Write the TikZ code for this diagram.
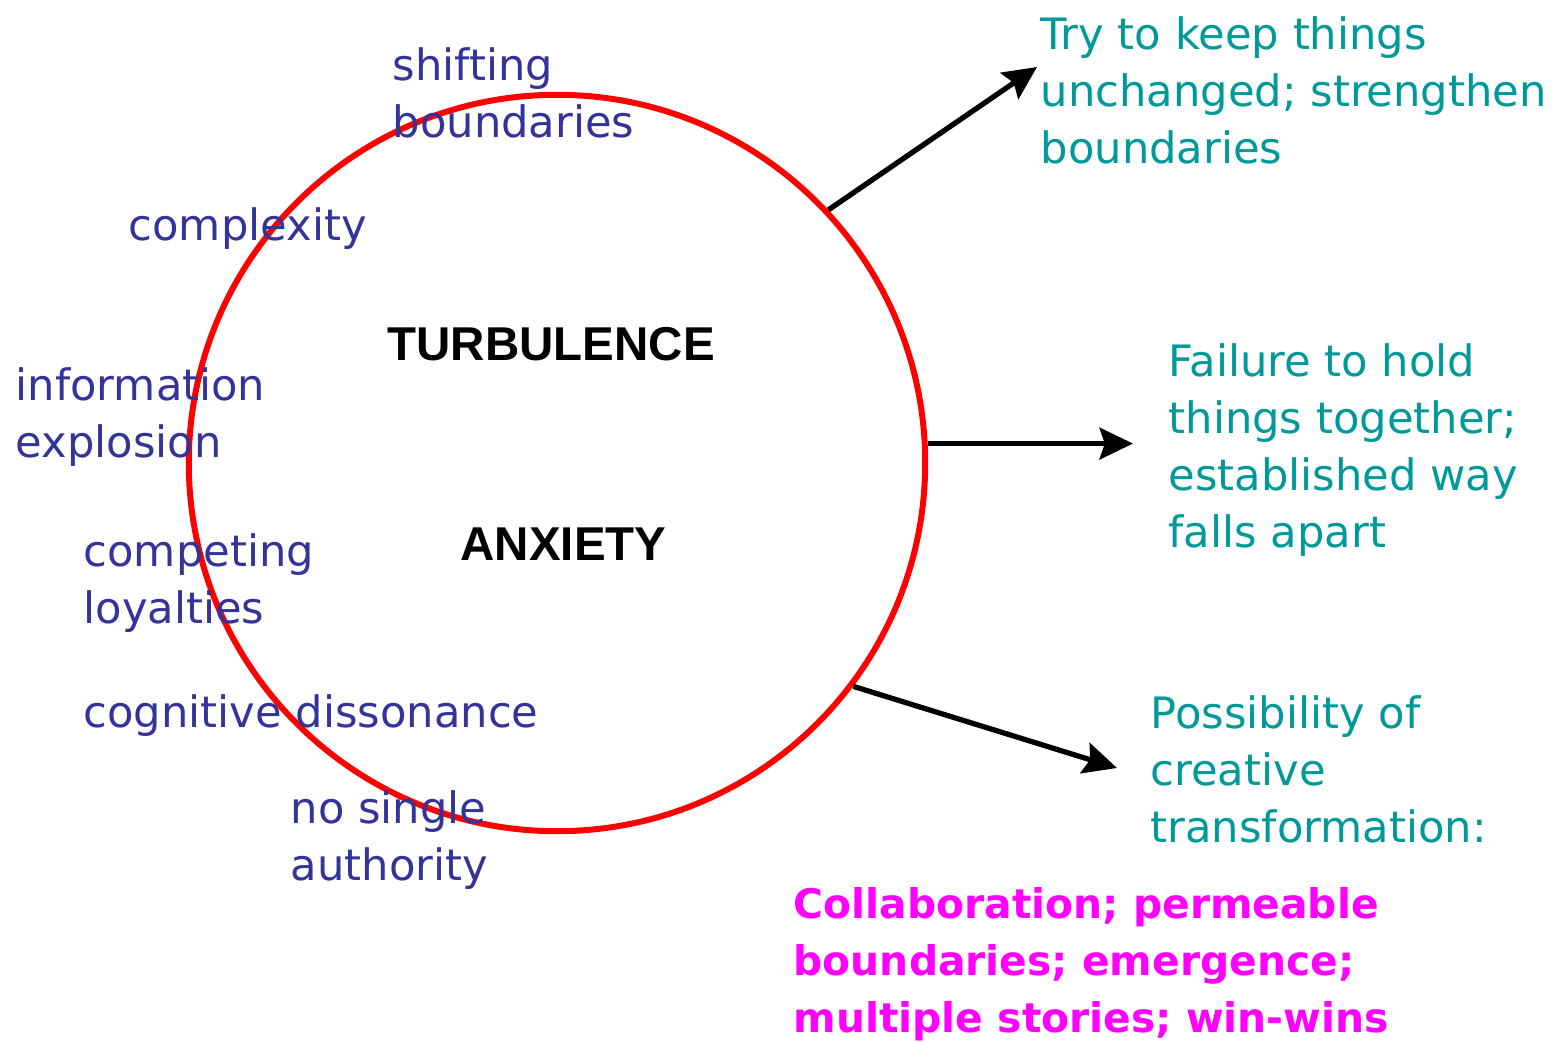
\documentclass[tikz,border=0pt]{standalone}
\usepackage{fontspec}
\setmainfont{DejaVu Sans}
\newfontfamily\capsfont{Liberation Sans}
\usetikzlibrary{arrows.meta, positioning}
\definecolor{ringred}{RGB}{255,0,0}
\definecolor{causeblue}{RGB}{51,51,153}
\definecolor{outteal}{RGB}{0,153,153}
\definecolor{hopepink}{RGB}{255,0,255}
\tikzset{
    tbring/.style={circle, draw=ringred, line width=1.7pt, minimum size=7.36cm, inner sep=0pt},
    tbcause/.style={anchor=base west, align=left, inner sep=0pt, text=causeblue, font=\fontsize{12.3pt}{16.2pt}\selectfont},
    tbstate/.style={anchor=base west, inner sep=0pt, font=\capsfont\bfseries\fontsize{13.5pt}{16pt}\selectfont},
    tboutcome/.style={anchor=base west, align=left, inner sep=0pt, text=outteal, font=\fontsize{12.3pt}{16.2pt}\selectfont},
    tbhope/.style={anchor=base west, align=left, inner sep=0pt, text=hopepink, font=\bfseries\fontsize{11.6pt}{16.2pt}\selectfont},
    tbarrow/.style={-{Stealth[length=9.5pt, width=9pt, inset=1.5pt]}, line width=1.5pt}
}

\begin{document}
\begin{tikzpicture}[x=0.01cm, y=-0.01cm]
  \useasboundingbox (0,0) rectangle (1559,1042);
  \node[tbring] (ring) at (557,463) {};
  % causes around the ring
  \node[tbcause] (shift) at (392,137) {shifting\\boundaries};
  \node[tbcause] (cplx)  at (128,240) {complexity};
  \node[tbcause] (info)  at (15,457)  {information\\explosion};
  \node[tbcause] (loyal) at (83,623)  {competing\\loyalties};
  \node[tbcause] (cogn)  at (83,727)  {cognitive dissonance};
  \node[tbcause] (auth)  at (290,880) {no single\\authority};
  % inside
  \node[tbstate] (turb) at (387,360) {TURBULENCE};
  \node[tbstate] (anx)  at (460,560) {ANXIETY};
  % outcomes
  \node[tboutcome] (keep) at (1040,163)  {Try to keep things\\unchanged; strengthen\\boundaries};
  \node[tboutcome] (fail) at (1168,547) {Failure to hold\\things together;\\established way\\falls apart};
  \node[tboutcome] (poss) at (1150,842) {Possibility of\\creative\\transformation:};
  \node[tbhope]    (coll) at (793,1032) {Collaboration; permeable\\boundaries; emergence;\\multiple stories; win-wins};
  \coordinate (keeptip) at (1037,67);
  \coordinate (failtip) at (1133,447);
  \coordinate (posstip) at (1117,768);
  \draw[tbarrow] (ring.43)    -- (keeptip);
  \draw[tbarrow] (ring.3)     -- (ring.3 -| failtip);
  \draw[tbarrow] (ring.-37.7) -- (posstip);
\end{tikzpicture}
\end{document}
